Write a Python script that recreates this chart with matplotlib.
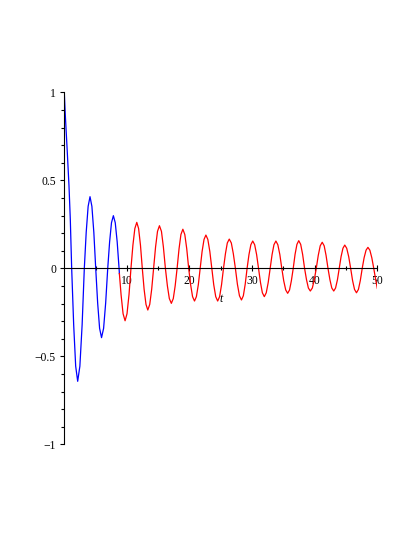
import matplotlib
matplotlib.use("Agg")
import matplotlib.pyplot as plt
from matplotlib.ticker import FixedLocator

# ---- data ----
blue_t = [0.00, 0.15, 0.48, 0.75, 0.96, 1.18, 1.50, 1.82, 2.14, 2.49, 2.85, 3.20,
          3.50, 3.81, 4.11, 4.41, 4.72, 5.02, 5.33, 5.64, 5.95, 6.28, 6.61, 6.94,
          7.24, 7.54, 7.84, 8.14, 8.45, 8.75, 8.80]
blue_y = [1.000, 0.880, 0.660, 0.470, 0.280, 0.000, -0.321, -0.556, -0.642, -0.556, -0.321, 0.000,
          0.204, 0.352, 0.407, 0.352, 0.204, 0.000, -0.197, -0.341, -0.394, -0.341, -0.197, 0.000,
          0.150, 0.259, 0.299, 0.259, 0.150, 0.000, -0.030]

red_t = [8.80, 9.07, 9.39, 9.71, 10.02, 10.34, 10.65, 10.96, 11.27, 11.58, 11.87, 12.17, 12.46,
         12.75, 13.05, 13.34, 13.65, 13.96, 14.27, 14.58, 14.89, 15.20, 15.52, 15.83, 16.15,
         16.47, 16.78, 17.10, 17.41, 17.71, 18.02, 18.33, 18.63, 18.94, 19.25, 19.56, 19.87,
         20.18, 20.49, 20.80, 21.10, 21.41, 21.71, 22.01, 22.32, 22.62, 22.93, 23.25, 23.56,
         23.87, 24.19, 24.50, 24.81, 25.12, 25.43, 25.74, 26.04, 26.35, 26.68, 27.00, 27.33,
         27.65, 27.98, 28.30, 28.60, 28.90, 29.20, 29.50, 29.80, 30.10, 30.41, 30.72, 31.03,
         31.34, 31.64, 31.95, 32.26, 32.57, 32.88, 33.19, 33.49, 33.80, 34.11, 34.43, 34.74,
         35.05, 35.37, 35.68, 35.98, 36.27, 36.57, 36.86, 37.16, 37.45, 37.76, 38.07, 38.38,
         38.69, 38.99, 39.30, 39.62, 39.93, 40.25, 40.57, 40.88, 41.20, 41.51, 41.81, 42.12,
         42.43, 42.73, 43.04, 43.33, 43.63, 43.92, 44.21, 44.51, 44.80, 45.11, 45.43, 45.74,
         46.05, 46.36, 46.67, 46.98, 47.28, 47.59, 47.89, 48.20, 48.50, 48.81, 49.12, 49.43,
         49.74, 50.00]
red_y = [-0.030, -0.150, -0.258, -0.298, -0.258, -0.149, 0.000, 0.131, 0.226, 0.261, 0.226, 0.131, 0.000,
         -0.119, -0.205, -0.237, -0.205, -0.119, 0.000, 0.121, 0.210, 0.242, 0.210, 0.121, 0.000,
         -0.100, -0.172, -0.199, -0.172, -0.100, 0.000, 0.111, 0.192, 0.222, 0.192, 0.111, 0.000,
         -0.093, -0.161, -0.186, -0.161, -0.093, 0.000, 0.095, 0.164, 0.189, 0.164, 0.095, 0.000,
         -0.093, -0.161, -0.186, -0.161, -0.093, 0.000, 0.083, 0.144, 0.166, 0.144, 0.083, 0.000,
         -0.090, -0.156, -0.180, -0.156, -0.090, 0.000, 0.078, 0.134, 0.155, 0.134, 0.078, 0.000,
         -0.081, -0.139, -0.161, -0.139, -0.081, 0.000, 0.078, 0.134, 0.155, 0.134, 0.078, 0.000,
         -0.071, -0.123, -0.142, -0.123, -0.071, 0.000, 0.079, 0.136, 0.157, 0.136, 0.079, 0.000,
         -0.065, -0.112, -0.129, -0.112, -0.065, 0.000, 0.074, 0.128, 0.148, 0.128, 0.074, 0.000,
         -0.065, -0.112, -0.129, -0.112, -0.065, 0.000, 0.066, 0.114, 0.132, 0.114, 0.066, 0.000,
         -0.070, -0.120, -0.139, -0.120, -0.070, 0.000, 0.060, 0.103, 0.119, 0.103, 0.060, 0.000,
         -0.065, -0.114]

x_major = [10, 20, 30, 40, 50]
x_minor = [5, 15, 25, 35, 45]
y_major = [-1, -0.5, 0, 0.5, 1]
y_labels = ["\u22121", "\u22120.5", "0", "0.5", "1"]
y_minor = [-0.9, -0.8, -0.7, -0.6, -0.4, -0.3, -0.2, -0.1,
           0.1, 0.2, 0.3, 0.4, 0.6, 0.7, 0.8, 0.9]
x_label = "t"

plt.rcParams["font.family"] = ["Liberation Serif", "DejaVu Serif"]

fig = plt.figure(figsize=(4.15, 5.37), dpi=100)
ax = fig.add_axes([0.1549, 0.1726, 0.7543, 0.6555])
ax.set_xlim(0, 50)
ax.set_ylim(-1, 1)

ax.plot(blue_t, blue_y, color="#0000ff", lw=0.9, solid_joinstyle="round")
ax.plot(red_t, red_y, color="#ff0000", lw=0.9, solid_joinstyle="round")

for s in ("top", "right"):
    ax.spines[s].set_visible(False)
ax.spines["bottom"].set_position(("data", 0))
ax.spines["left"].set_linewidth(0.8)
ax.spines["bottom"].set_linewidth(0.8)

ax.xaxis.set_major_locator(FixedLocator(x_major))
ax.xaxis.set_minor_locator(FixedLocator(x_minor))
ax.set_xticklabels([str(v) for v in x_major])
ax.yaxis.set_major_locator(FixedLocator(y_major))
ax.yaxis.set_minor_locator(FixedLocator(y_minor))
ax.set_yticklabels(y_labels)

ax.tick_params(axis="x", which="major", direction="inout", length=4, width=0.8,
               labelsize=8.4, pad=2.5)
ax.tick_params(axis="x", which="minor", direction="inout", length=3, width=0.8)
ax.tick_params(axis="y", which="major", direction="out", length=3, width=0.8,
               labelsize=8.4, pad=3)
ax.tick_params(axis="y", which="minor", direction="out", length=2, width=0.8)

ax.set_xlabel(x_label, fontstyle="italic", fontsize=8.4)
ax.xaxis.set_label_coords(0.5, 0.414)
ax.xaxis.label.set_verticalalignment("center")

fig.savefig("out.png", dpi=100)
